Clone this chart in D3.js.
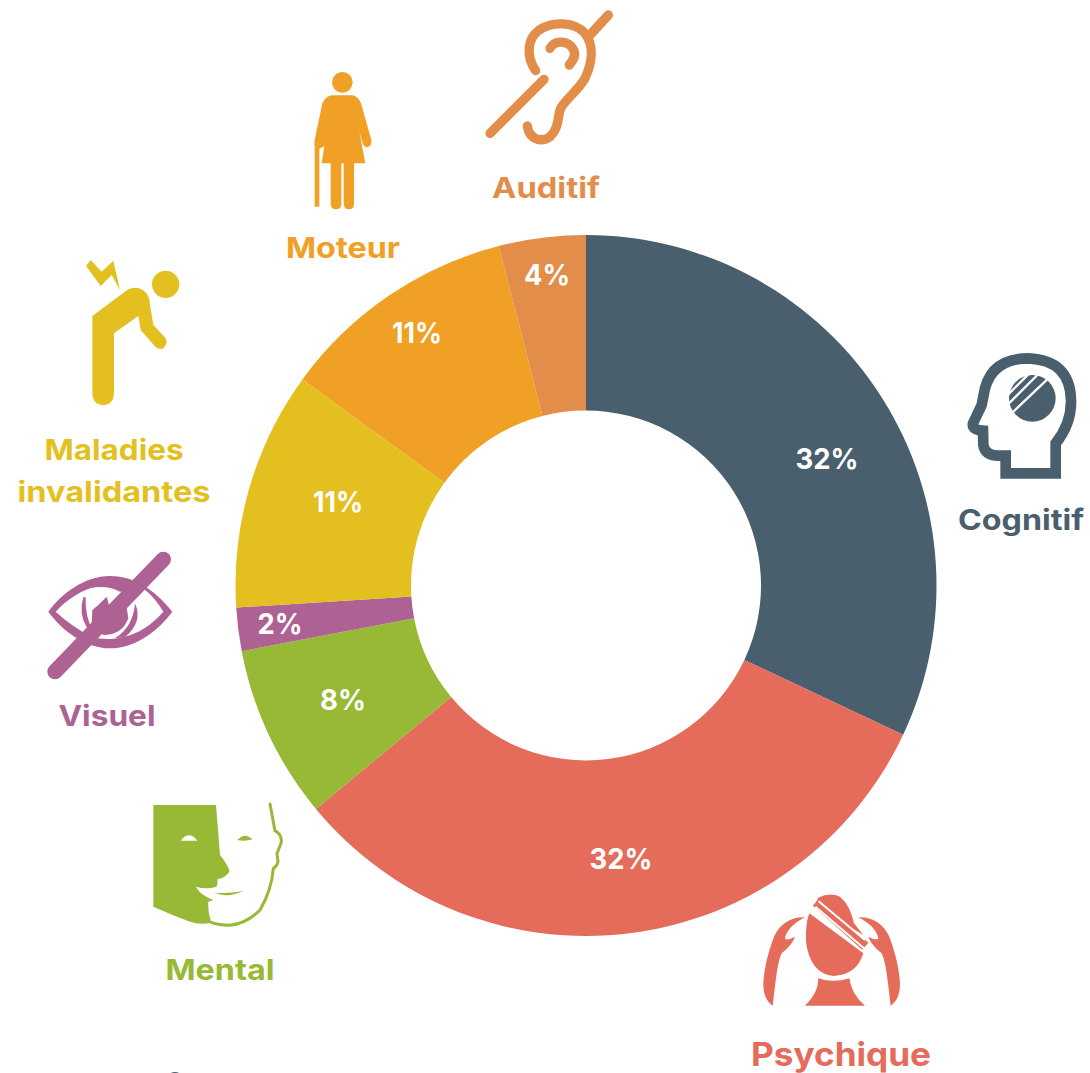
<!DOCTYPE html>
<html><head><meta charset="utf-8">
<script src="https://cdn.jsdelivr.net/npm/d3@7"></script>
<style>html,body{margin:0;padding:0;background:#fff}svg{display:block}
text{font-family:Inter,"Open Sans",sans-serif;font-weight:700}</style></head>
<body><svg id="c" width="1090" height="1073"></svg>
<script>
const categories=["Cognitif","Psychique","Mental","Visuel","Maladies invalidantes","Moteur","Auditif"];
const values=[32,32,8,2,11,11,4];
const colors=["#4a5f6d","#e56b5a","#97b935","#ae6193","#e3bf20","#f0a024","#e28d4a"];
const pctLabels=["32%","32%","8%","2%","11%","11%","4%"];

// layout (hand placed in the original)
const cx=586,cy=585.5,outerR=350.5,innerR=175;
const pctPos=[[827,459,63],[621,859,63],[343,700,46],[280,624,45],[338,502,50],[417,333,50],[547,275,46]];
const namePos=[
 [[1021,519,126,"Cognitif"]],
 [[841,1055,180,"Psychique",33]],
 [[220,969,109,"Mental"]],
 [[107,715,97,"Visuel"]],
 [[114,449,139,"Maladies"],[114,491,193,"invalidantes"]],
 [[343,247,114,"Moteur"]],
 [[546,187,108,"Auditif"]]];

const svg=d3.select("#c");
const pie=d3.pie().sort(null).value(d=>d)(values);
const arc=d3.arc().innerRadius(innerR).outerRadius(outerR);
svg.append("g").attr("transform",`translate(${cx},${cy})`).selectAll("path").data(pie).join("path")
  .attr("d",arc).attr("fill",(d,i)=>colors[i]);

svg.append("g").selectAll("text").data(pctLabels).join("text")
  .attr("x",(d,i)=>pctPos[i][0]).attr("y",(d,i)=>pctPos[i][1]+10)
  .attr("text-anchor","middle").attr("font-size",29).attr("fill","#fff")
  .attr("textLength",(d,i)=>pctPos[i][2]).attr("lengthAdjust","spacingAndGlyphs").text(d=>d);

namePos.forEach((lines,i)=>lines.forEach(l=>{
  svg.append("text").attr("x",l[0]).attr("y",l[1]+10.5).attr("text-anchor","middle")
    .attr("font-size",l[4]||29).attr("fill",colors[i])
    .attr("textLength",l[2]).attr("lengthAdjust","spacingAndGlyphs").text(l[3]);
}));

// icons, drawn in 3x local units
function icon(x,y){return svg.append("g").attr("transform",`translate(${x},${y}) scale(${1/3})`);}
// Auditif
let g=icon(470,0), c=colors[6];
g.selectAll("path").data([
 "M197,212 C165,165 175,115 205,92 C245,62 315,65 345,100 C372,135 368,185 345,235 C325,270 285,300 272,325 C262,350 268,385 240,410 C215,428 178,420 172,378",
 "M240,145 C255,118 295,122 310,148 C320,165 310,180 298,195",
 "M60,400 L222,238","M360,105 L415,45"]).join("path")
 .attr("d",d=>d).attr("fill","none").attr("stroke",c).attr("stroke-width",28).attr("stroke-linecap","round");
// Moteur
g=icon(290,60); c=colors[5];
g.append("circle").attr("cx",157).attr("cy",67).attr("r",31).attr("fill",c);
g.append("path").attr("fill",c).attr("d","M125,106 L188,106 Q205,110 213,130 L244,240 Q246,258 233,262 Q222,263 218,250 L208,215 L226,310 L192,310 L192,432 Q192,448 177,448 Q162,448 161,432 L161,310 L154,310 L154,432 Q154,448 138,448 Q123,448 122,432 L122,310 L95,310 L103,258 L88,266 L74,262 Q72,250 74,240 L97,130 Q106,110 125,106 Z");
g.append("path").attr("fill",c).attr("d","M74,262 L88,262 L88,440 L74,440 Z");
// Maladies
g=icon(70,250); c=colors[4];
g.append("circle").attr("cx",287).attr("cy",103).attr("r",41).attr("fill",c);
g.append("path").attr("fill",c).attr("d","M67,198 L175,118 Q205,105 228,128 Q240,145 240,165 L250,225 L287,265 Q295,280 280,295 Q268,300 256,290 L212,240 L205,198 L132,250 L132,430 Q130,465 100,465 Q68,465 67,430 Z");
g.append("path").attr("fill",c).attr("d","M48,48 L62,30 L95,65 L130,32 L150,120 L125,75 L92,108 Z");
// Visuel
g=icon(35,540); c=colors[3];
g.append("path").attr("fill",c).attr("d","M40,215 C80,160 150,108 225,108 C290,108 350,140 412,215 C360,285 290,325 225,325 C150,325 80,270 40,215 Z");
g.append("path").attr("fill","#fff").attr("d","M62,215 C95,180 130,158 165,145 C195,138 225,140 255,155 L330,150 C350,165 370,190 385,215 C350,255 310,280 270,290 C230,300 200,298 170,290 C130,270 95,245 62,215 Z");
g.append("path").attr("fill",c).attr("d","M145,172 L152,172 Q150,230 172,268 L155,262 Q130,220 145,172 Z");
g.append("path").attr("fill",c).attr("d","M172,210 L190,195 L215,170 L222,195 L270,170 L280,235 Q262,285 205,285 L170,250 Z");
g.append("path").attr("fill",c).attr("d","M300,190 Q325,245 270,292 L240,295 Q295,260 300,190 Z");
g.append("path").attr("d","M60,395 L385,58").attr("stroke",c).attr("stroke-width",46).attr("stroke-linecap","round");
// Mental
g=icon(140,790); c=colors[2];
g.append("path").attr("fill",c).attr("d","M40,45 L228,45 Q235,130 240,195 Q268,230 268,245 Q258,262 232,268 Q235,290 225,292 Q195,298 168,290 Q180,315 220,330 L205,335 Q203,370 215,398 Q180,405 150,395 Q95,375 40,350 Z");
g.append("path").attr("fill","#fff").attr("d","M122,152 Q147,120 172,152 Z");
g.append("path").attr("fill",c).attr("d","M292,150 Q315,125 338,148 Q315,155 292,150 Z");
g.append("path").attr("fill",c).attr("d","M222,308 Q265,312 310,303 Q265,325 222,308 Z");
g.append("path").attr("fill","none").attr("stroke",c).attr("stroke-width",9).attr("stroke-linecap","round")
 .attr("d","M390,42 L405,122 Q428,135 423,160 L411,190 L414,215 Q410,230 400,235 Q395,300 360,360 Q320,400 270,406 Q235,405 215,398");
// Psychique
g=icon(750,885); c=colors[1];
g.append("path").attr("fill",c).attr("d","M178,85 L340,205 Q320,270 250,273 Q180,265 168,170 Q166,115 178,85 Z");
g.append("path").attr("fill",c).attr("d","M205,38 Q240,20 270,35 Q300,60 312,115 L340,150 L192,62 Z");
g.append("path").attr("d","M198,52 L346,184").attr("stroke",c).attr("stroke-width",28).attr("fill","none");
g.selectAll(".s").data(["M205,48 L345,165","M196,65 L342,190"]).join("path")
 .attr("d",d=>d).attr("stroke","#fff").attr("stroke-width",6).attr("fill","none");
g.append("path").attr("fill",c).attr("d","M205,280 Q250,295 298,280 Q305,330 345,362 L165,362 Q205,325 205,280 Z");
const arm="M165,97 C125,95 90,115 72,155 C55,200 42,250 40,295 C40,330 50,350 68,362 C72,330 75,300 80,265 C84,240 88,220 95,205 C112,190 128,175 135,155 C125,160 115,165 105,162 C108,135 135,112 165,97 Z";
g.append("path").attr("fill",c).attr("d",arm);
g.append("path").attr("fill",c).attr("d",arm).attr("transform","translate(490,0) scale(-1,1)");
// Cognitif
g=icon(955,340); c=colors[0];
g.append("path").attr("fill","none").attr("stroke",c).attr("stroke-width",32).attr("stroke-linejoin","miter")
 .attr("d","M152,400 L302,400 L302,310 Q350,250 348,180 Q345,60 220,55 Q100,55 85,170 L80,195 L54,250 Q50,270 84,272 L85,315 Q90,347 130,347 L152,347 Z");
g.append("circle").attr("cx",232).attr("cy",175).attr("r",70).attr("fill",c);
g.selectAll(".t").data(["M155,168 L225,98","M160,192 L250,102","M172,218 L280,115"]).join("path")
 .attr("d",d=>d).attr("stroke","#fff").attr("stroke-width",7);
// Partial icon cropped at the bottom
svg.append("circle").attr("cx",175).attr("cy",1081).attr("r",9).attr("fill",colors[0]);
</script></body></html>
